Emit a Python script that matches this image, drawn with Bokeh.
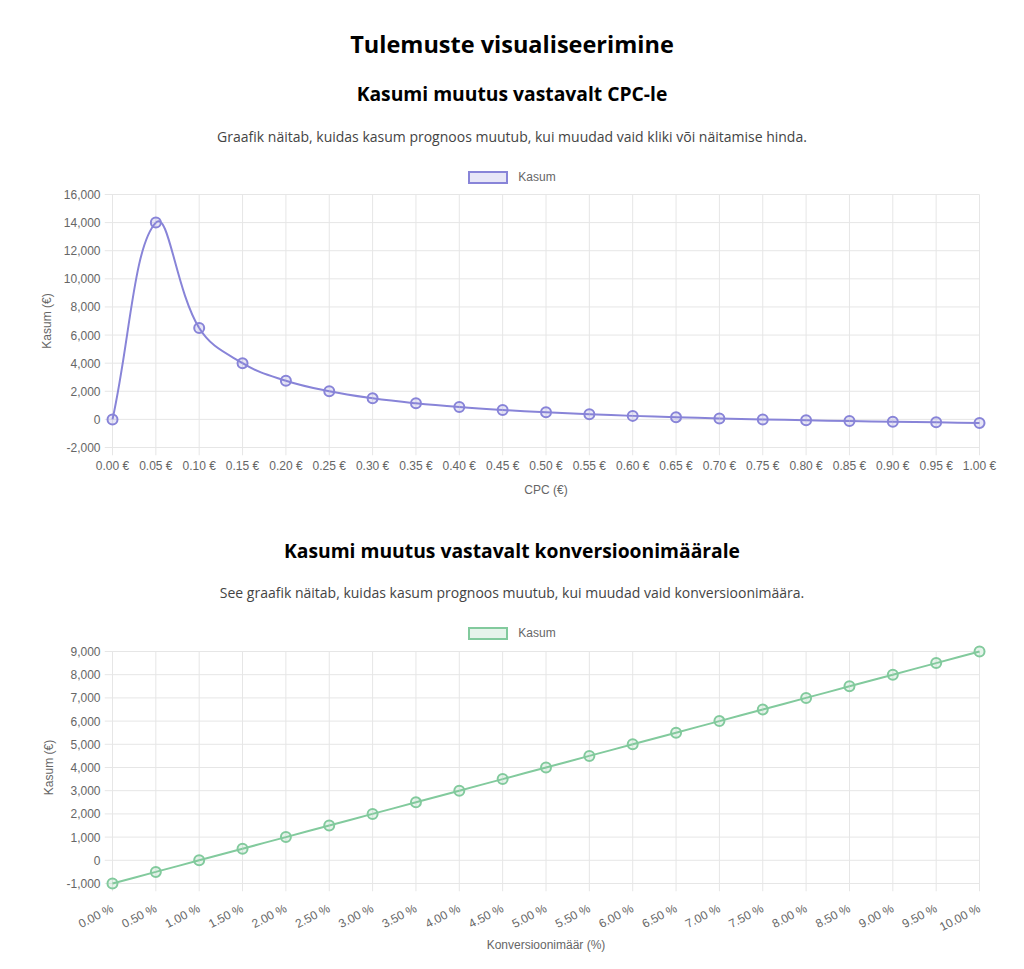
import math
from bokeh.plotting import figure
from bokeh.models import (Div, FixedTicker, NumeralTickFormatter, ColumnDataSource, Range1d)
from bokeh.layouts import column
from bokeh.embed import file_html
from bokeh.resources import INLINE

# ---------------- data ----------------
page_title = "Tulemuste visualiseerimine"
chart1_title = "Kasumi muutus vastavalt CPC-le"
chart1_desc = "Graafik näitab, kuidas kasum prognoos muutub, kui muudad vaid kliki või näitamise hinda."
chart2_title = "Kasumi muutus vastavalt konversioonimäärale"
chart2_desc = "See graafik näitab, kuidas kasum prognoos muutub, kui muudad vaid konversioonimäära."

series_name = "Kasum"

cpc_labels = ["0.00 €", "0.05 €", "0.10 €", "0.15 €", "0.20 €", "0.25 €", "0.30 €",
              "0.35 €", "0.40 €", "0.45 €", "0.50 €", "0.55 €", "0.60 €", "0.65 €",
              "0.70 €", "0.75 €", "0.80 €", "0.85 €", "0.90 €", "0.95 €", "1.00 €"]
kasum_cpc = [0, 14000, 6500, 4000, 2750, 2000, 1500, 1143, 875, 667, 500,
             364, 250, 154, 71, 0, -63, -118, -167, -211, -250]

conv_labels = ["0.00 %", "0.50 %", "1.00 %", "1.50 %", "2.00 %", "2.50 %", "3.00 %",
               "3.50 %", "4.00 %", "4.50 %", "5.00 %", "5.50 %", "6.00 %", "6.50 %",
               "7.00 %", "7.50 %", "8.00 %", "8.50 %", "9.00 %", "9.50 %", "10.00 %"]
kasum_conv = [-1000, -500, 0, 500, 1000, 1500, 2000, 2500, 3000, 3500, 4000,
              4500, 5000, 5500, 6000, 6500, 7000, 7500, 8000, 8500, 9000]

y1_ticks = [-2000, 0, 2000, 4000, 6000, 8000, 10000, 12000, 14000, 16000]
y2_ticks = [-1000, 0, 1000, 2000, 3000, 4000, 5000, 6000, 7000, 8000, 9000]

x1_title = "CPC (€)"
x2_title = "Konversioonimäär (%)"
y_title = "Kasum (€)"

purple = "#8884d8"
purple_fill = "rgba(136,132,216,0.2)"
green = "#82ca9d"
green_fill = "rgba(130,202,157,0.2)"

# ---------------- helpers ----------------
DIV_W = 1024
FIG_W = 1016
HEAD_FONT = "'Open Sans', 'Noto Sans', sans-serif"
CHART_FONT = "Liberation Sans"
GRID = "#e6e6e6"
PAD = 8  # px of room around the plotting area (Chart.js draws points unclipped)


def text_div(text, top, center, height, size, weight, color):
    lh = round(size * 1.4)
    pad = center - top - lh / 2
    html = (f'<div style="width:{DIV_W}px;text-align:center;font-family:{HEAD_FONT};'
            f'font-size:{size}px;font-weight:{weight};color:{color};line-height:{lh}px;'
            f'padding-top:{pad}px;white-space:nowrap;">{text}</div>')
    return Div(text=html, width=DIV_W, height=height, margin=0)


def legend_div(label, color, fill, top, center, height):
    pad = center - top
    html = (f'<div style="width:{DIV_W}px;display:flex;justify-content:center;'
            f'align-items:center;gap:10px;padding-top:{pad}px;height:14px;'
            f'font-family:\'Liberation Sans\',Arial,sans-serif;font-size:12px;color:#666666;">'
            f'<span style="display:inline-block;box-sizing:border-box;width:40px;height:13px;'
            f'border:2px solid {color};background:{fill};"></span>'
            f'<span style="line-height:14px;">{label}</span></div>')
    return Div(text=html, width=DIV_W, height=height, margin=0)


def spline(xs, ys, sx, sy, ylo, yhi, tension=0.4):
    """Chart.js-style cubic control points (computed in pixel space)."""
    n = len(xs)
    px = [x * sx for x in xs]
    py = [y * sy for y in ys]
    cprev, cnext = [], []
    for i in range(n):
        a = max(i - 1, 0)
        b = min(i + 1, n - 1)
        d01 = math.hypot(px[i] - px[a], py[i] - py[a])
        d12 = math.hypot(px[b] - px[i], py[b] - py[i])
        tot = d01 + d12
        s01 = d01 / tot if tot else 0
        s12 = d12 / tot if tot else 0
        fa, fb = tension * s01, tension * s12
        dx, dy = px[b] - px[a], py[b] - py[a]
        cprev.append((px[i] - fa * dx, py[i] - fa * dy))
        cnext.append((px[i] + fb * dx, py[i] + fb * dy))
    clamp = lambda v: min(max(v, ylo), yhi)
    return dict(
        x0=xs[:-1], y0=ys[:-1], x1=xs[1:], y1=ys[1:],
        cx0=[cnext[i][0] / sx for i in range(n - 1)],
        cy0=[clamp(cnext[i][1] / sy) for i in range(n - 1)],
        cx1=[cprev[i + 1][0] / sx for i in range(n - 1)],
        cy1=[clamp(cprev[i + 1][1] / sy) for i in range(n - 1)],
    )


def make_chart(labels, values, yticks, color, xtitle, height, border_left, border_right,
               border_bottom, area_w, area_h, rotate=0.0, xlabel_standoff=3,
               title_standoff=7):
    xs = list(range(len(labels)))
    n = len(xs)
    ylo, yhi = yticks[0], yticks[-1]
    sx = area_w / (n - 1)          # px per category step
    sy = area_h / (yhi - ylo)      # px per euro
    dx_pad = PAD / sx
    dy_pad = PAD / sy
    p = figure(width=FIG_W, height=height, output_backend="svg", toolbar_location=None,
               x_range=Range1d(-dx_pad, n - 1 + dx_pad),
               y_range=Range1d(ylo - dy_pad, yhi + dy_pad),
               min_border_left=border_left, min_border_right=border_right,
               min_border_bottom=border_bottom, min_border_top=0,
               background_fill_color="white", border_fill_color="white",
               outline_line_color=None)
    p.xgrid.visible = False
    p.ygrid.visible = False

    # grid lines incl. the small outward tick marks (Chart.js style)
    p.segment(x0=xs, y0=[ylo - dy_pad] * n, x1=xs, y1=[yhi] * n,
              line_color=GRID, line_width=1)
    m = len(yticks)
    p.segment(x0=[-dx_pad] * m, y0=yticks, x1=[n - 1] * m, y1=yticks,
              line_color=GRID, line_width=1)

    # line (smooth, Chart.js tension 0.4)
    seg = ColumnDataSource(spline(xs, values, sx, sy, ylo, yhi))
    p.bezier(x0="x0", y0="y0", x1="x1", y1="y1", cx0="cx0", cy0="cy0", cx1="cx1", cy1="cy1",
             source=seg, line_color=color, line_width=2)
    pts = ColumnDataSource(dict(x=xs, y=values))
    p.scatter("x", "y", source=pts, marker="circle", size=10, line_color=color,
              line_width=2, fill_color=color, fill_alpha=0.2)

    # axes
    p.xaxis.ticker = FixedTicker(ticks=xs)
    p.xaxis.major_label_overrides = {i: lab for i, lab in zip(xs, labels)}
    p.yaxis.ticker = FixedTicker(ticks=yticks)
    p.yaxis.formatter = NumeralTickFormatter(format="0,0")
    for ax in (p.xaxis, p.yaxis):
        ax.axis_line_color = None
        ax.major_tick_line_color = None
        ax.major_tick_out = 0
        ax.major_tick_in = 0
        ax.minor_tick_line_color = None
        ax.major_label_text_font = CHART_FONT
        ax.major_label_text_font_size = "12px"
        ax.major_label_text_color = "#666666"
        ax.axis_label_text_font = CHART_FONT
        ax.axis_label_text_font_size = "12px"
        ax.axis_label_text_color = "#666666"
        ax.axis_label_text_font_style = "normal"
    p.xaxis.axis_label = xtitle
    p.yaxis.axis_label = y_title
    p.xaxis.major_label_standoff = xlabel_standoff
    p.yaxis.major_label_standoff = 4
    p.xaxis.axis_label_standoff = title_standoff
    p.yaxis.axis_label_standoff = 7
    if rotate:
        p.xaxis.major_label_orientation = rotate
    return p


# ---------------- layout ----------------
d1 = text_div(page_title, 0, 44, 80, 23.5, 700, "#000000")
d2 = text_div(chart1_title, 80, 93, 26, 19.3, 700, "#000000")
d3 = text_div(chart1_desc, 106, 137, 54, 14, 400, "#444444")
l1 = legend_div(series_name, purple, purple_fill, 160, 177, 26)

p1 = make_chart(cpc_labels, kasum_cpc, y1_ticks, purple, x1_title,
                height=344, border_left=104, border_right=29, border_bottom=75,
                area_w=867, area_h=253, xlabel_standoff=3, title_standoff=7)

d4 = text_div(chart2_title, 530, 550, 40, 19.3, 700, "#000000")
d5 = text_div(chart2_desc, 570, 593, 45, 14, 400, "#444444")
l2 = legend_div(series_name, green, green_fill, 615, 633, 28)

p2 = make_chart(conv_labels, kasum_conv, y2_ticks, green, x2_title,
                height=324, border_left=102, border_right=28, border_bottom=76,
                area_w=870, area_h=232, rotate=0.48, xlabel_standoff=16,
                title_standoff=-5)

layout = column(d1, d2, d3, l1, p1, d4, d5, l2, p2, spacing=0)

open("out.html", "w").write(file_html(layout, INLINE, title=page_title))
